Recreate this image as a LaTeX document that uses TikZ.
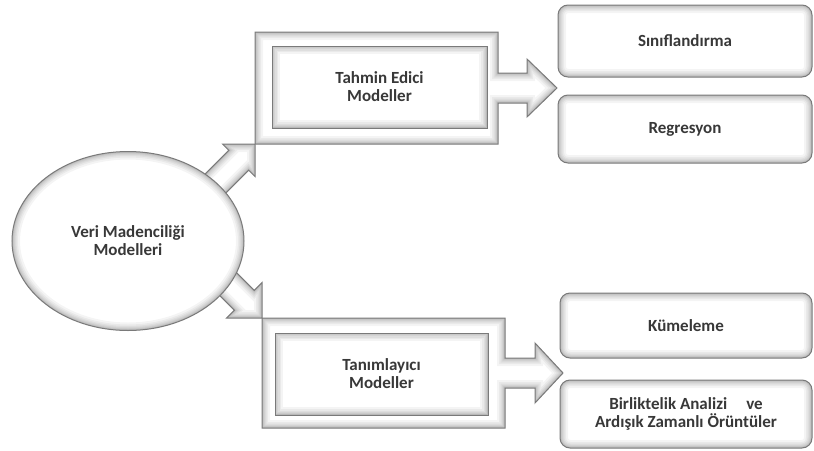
\documentclass[tikz,border=0pt]{standalone}
\usepackage{fontspec}
\setmainfont{Carlito}
\usetikzlibrary{calc,backgrounds,shapes.geometric}

\tikzset{
  label text/.style={font=\fontsize{17}{18}\selectfont\bfseries, text=black!78, align=center},
  frame/.style={draw=none, inner sep=0pt, outer sep=0pt},
  glow ring/.style={draw=black, draw opacity=0.045},
  edge line/.style={draw=black!52, line width=1pt, line join=miter},
}

% A white shape with a soft grey shading just inside its outline
\newcommand\softshape[1]{%
  \fill[white] #1;
  \begin{scope}
    \clip #1;
    \foreach \w in {16,12,9,6.5,4.5,2.8,1.6}
      \draw[glow ring, line width=\w pt] #1;
  \end{scope}
  \draw[edge line] #1;
}

% Block arrow from #1 (start) to #2 (tip); #3 prefix for helper coordinates,
% #4 shaft half width, #5 head half width, #6 head length
\newcommand\blockarrow[6]{%
  \coordinate (#3b) at ($(#2)!#6!(#1)$);
  \coordinate (#3s1) at ($(#1)!#4!90:(#2)$);
  \coordinate (#3s2) at ($(#1)!#4!-90:(#2)$);
  \coordinate (#3b1) at ($(#3b)!#4!-90:(#1)$);
  \coordinate (#3b2) at ($(#3b)!#4!90:(#1)$);
  \coordinate (#3h1) at ($(#3b)!#5!-90:(#1)$);
  \coordinate (#3h2) at ($(#3b)!#5!90:(#1)$);
  \softshape{(#3s1) -- (#3b1) -- (#3h1) -- (#2) -- (#3h2) -- (#3b2) -- (#3s2) -- cycle}
}

\begin{document}
\begin{tikzpicture}[x=1pt, y=-1pt]
  \useasboundingbox (0,0) rectangle (814,450);

  % central ellipse
  \node[frame, ellipse, minimum width=232pt, minimum height=179pt, label text]
    (e) at (128,241) {Veri Madenciliği\\Modelleri};

  % frames around the two model groups
  \node[frame, minimum width=243pt, minimum height=112pt] (o1) at (376.5,88) {};
  \node[frame, minimum width=243pt, minimum height=110pt] (o2) at (383.5,373) {};

  \node[frame, minimum width=215pt, minimum height=82pt, label text]
    (i1) at (379.5,87) {Tahmin Edici\\Modeller};
  \node[frame, minimum width=213pt, minimum height=82pt, label text]
    (i2) at (381.5,374) {Tanımlayıcı\\Modeller};

  % task boxes
  \node[frame, minimum width=254pt, minimum height=72pt, label text]
    (r1) at (685,41) {Sınıflandırma};
  \node[frame, minimum width=254pt, minimum height=68pt, label text]
    (r2) at (685,129) {Regresyon};
  \node[frame, minimum width=252pt, minimum height=65pt, label text]
    (r3) at (686,325.5) {Kümeleme};
  \node[frame, minimum width=252pt, minimum height=68pt, label text]
    (r4) at (686,414) {Birliktelik Analizi\hspace{0.9em} ve\\Ardışık Zamanlı Örüntüler};

  \begin{pgfonlayer}{background}
    % arrows leaving the ellipse
    \coordinate (t1) at (o1.south west);
    \coordinate (t2) at (o2.north west);
    \coordinate (s1) at ($(t1)+(-55,55)$);
    \coordinate (s2) at ($(t2)+(-52,-52)$);
    \blockarrow{s1}{t1}{ua}{14pt}{23pt}{23pt}
    \blockarrow{s2}{t2}{da}{14pt}{25pt}{25pt}

    \softshape{(e.center) ellipse [x radius=116pt, y radius=89.5pt]}

    % group frames with their outgoing arrows
    \softshape{(o1.north west) -- (o1.north east) -- ($(o1.east)+(0,-15)$)
      -- ($(o1.east)+(29,-15)$) -- ($(o1.east)+(29,-29)$) -- ($(o1.east)+(59,0)$)
      -- ($(o1.east)+(29,29)$) -- ($(o1.east)+(29,15)$) -- ($(o1.east)+(0,15)$)
      -- (o1.south east) -- (o1.south west) -- cycle}
    \softshape{(o2.north west) -- (o2.north east) -- ($(o2.east)+(0,-15)$)
      -- ($(o2.east)+(30,-15)$) -- ($(o2.east)+(30,-30)$) -- ($(o2.east)+(58,0)$)
      -- ($(o2.east)+(30,30)$) -- ($(o2.east)+(30,15)$) -- ($(o2.east)+(0,15)$)
      -- (o2.south east) -- (o2.south west) -- cycle}

    \softshape{(i1.north west) rectangle (i1.south east)}
    \softshape{(i2.north west) rectangle (i2.south east)}

    \softshape{[rounded corners=10pt] (r1.north west) rectangle (r1.south east)}
    \softshape{[rounded corners=10pt] (r2.north west) rectangle (r2.south east)}
    \softshape{[rounded corners=10pt] (r3.north west) rectangle (r3.south east)}
    \softshape{[rounded corners=10pt] (r4.north west) rectangle (r4.south east)}
  \end{pgfonlayer}
\end{tikzpicture}
\end{document}
